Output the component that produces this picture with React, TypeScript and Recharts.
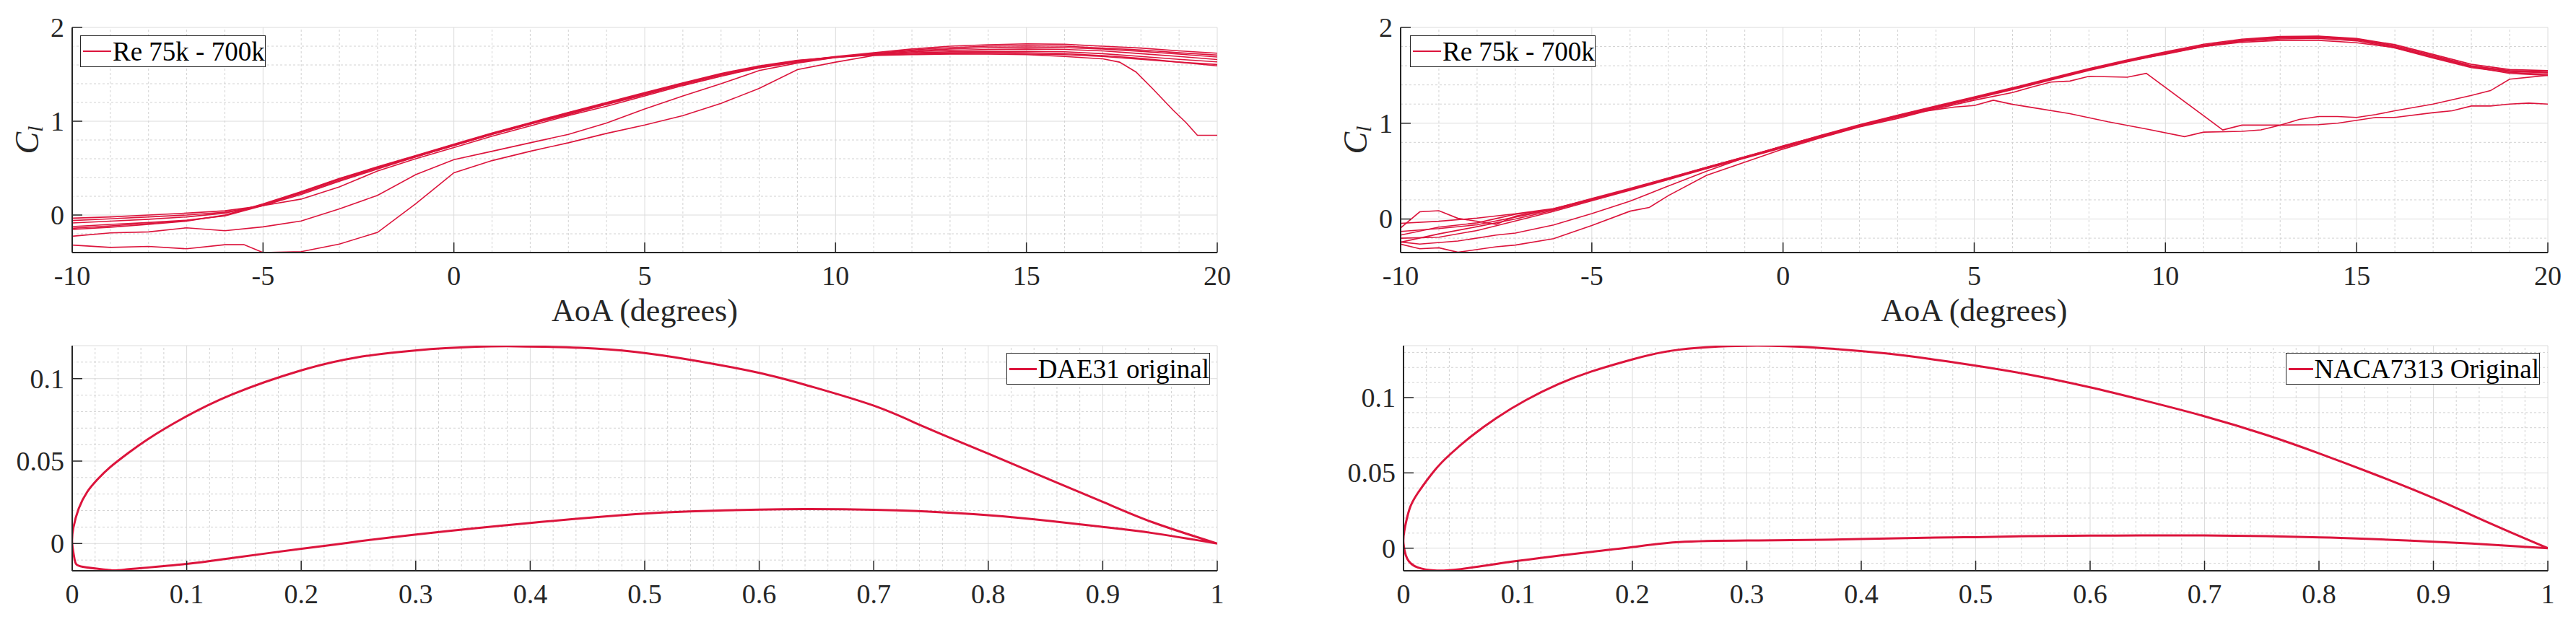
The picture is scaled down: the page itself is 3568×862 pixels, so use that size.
import { CartesianGrid, Legend, Line, LineChart, ReferenceLine, XAxis, YAxis } from "recharts";

const RED = "#dc143c";
const INK = "#262626";
const FONT = '"Liberation Serif", "DejaVu Serif", serif';

// shared angle-of-attack grid (deg)
const aoaDeg = [-10, -9, -8, -7, -6, -5, -4, -3, -2, -1, 0, 1, 2, 3, 4, 5, 6, 7, 8, 9, 10, 11, 12, 13, 14, 15, 16, 17, 18, 19, 20];

// DAE31 polars, Re 75k .. 700k
const dae31Aoa75k = [-10, -9, -8, -7, -6, -5.5, -5, -4, -3, -2, -1, 0, 1, 2, 3, 4, 5, 6, 7, 8, 9, 10, 11, 12, 13, 14, 15, 16, 17, 17.44, 17.87, 18.3, 18.85, 19.18, 19.48, 20];
const dae31Cl75k = [-0.32, -0.345, -0.335, -0.36, -0.316, -0.316, -0.4, -0.39, -0.31, -0.185, 0.12, 0.45, 0.58, 0.68, 0.77, 0.87, 0.96, 1.06, 1.19, 1.35, 1.55, 1.63, 1.7, 1.71, 1.715, 1.715, 1.71, 1.69, 1.665, 1.63, 1.525, 1.35, 1.115, 0.987, 0.85, 0.85];
const dae31Cl100k = [-0.226, -0.19, -0.18, -0.136, -0.167, -0.126, -0.064, 0.065, 0.21, 0.43, 0.59, 0.68, 0.77, 0.86, 0.98, 1.13, 1.27, 1.4, 1.54, 1.62, 1.68, 1.71, 1.725, 1.73, 1.735, 1.73, 1.72, 1.7, 1.67, 1.63, 1.59];
const dae31Cl150k = [-0.154, -0.13, -0.1, -0.065, 0.0, 0.12, 0.25, 0.39, 0.515, 0.635, 0.755, 0.875, 0.985, 1.095, 1.2, 1.305, 1.41, 1.51, 1.59, 1.65, 1.685, 1.705, 1.715, 1.72, 1.72, 1.715, 1.71, 1.69, 1.66, 1.63, 1.605];
const dae31Cl200k = [-0.141, -0.115, -0.09, -0.06, -0.005, 0.11, 0.245, 0.385, 0.51, 0.63, 0.75, 0.87, 0.98, 1.09, 1.19, 1.3, 1.4, 1.5, 1.585, 1.645, 1.685, 1.71, 1.73, 1.74, 1.745, 1.745, 1.74, 1.72, 1.69, 1.66, 1.633];
const dae31Cl300k = [-0.123, -0.1, -0.08, -0.055, -0.01, 0.1, 0.24, 0.38, 0.505, 0.625, 0.745, 0.865, 0.975, 1.08, 1.19, 1.29, 1.4, 1.5, 1.58, 1.64, 1.685, 1.715, 1.74, 1.755, 1.765, 1.77, 1.765, 1.75, 1.72, 1.69, 1.658];
const dae31Cl400k = [-0.085, -0.065, -0.045, -0.02, 0.02, 0.11, 0.23, 0.37, 0.5, 0.62, 0.74, 0.86, 0.97, 1.07, 1.18, 1.28, 1.39, 1.49, 1.57, 1.635, 1.685, 1.72, 1.75, 1.77, 1.785, 1.79, 1.785, 1.77, 1.745, 1.715, 1.685];
const dae31Cl500k = [-0.059, -0.04, -0.02, 0.0, 0.03, 0.1, 0.17, 0.3, 0.47, 0.6, 0.72, 0.84, 0.95, 1.06, 1.16, 1.27, 1.38, 1.48, 1.57, 1.63, 1.68, 1.72, 1.76, 1.785, 1.8, 1.805, 1.8, 1.78, 1.76, 1.73, 1.705];
const dae31Cl700k = [-0.034, -0.02, 0.0, 0.02, 0.045, 0.1, 0.22, 0.36, 0.49, 0.62, 0.74, 0.86, 0.97, 1.08, 1.18, 1.29, 1.4, 1.5, 1.58, 1.64, 1.69, 1.73, 1.77, 1.8, 1.815, 1.825, 1.82, 1.8, 1.78, 1.75, 1.725];

// NACA7313 polars
const nacaAoa75k = [-10, -9.5, -9, -8.5, -7.5, -7, -6, -5, -4, -3.5, -3, -2, -1, 0, 1, 2, 3, 3.74, 4.5, 5, 5.5, 6, 6.5, 7.5, 8.5, 9.5, 10.5, 11, 12, 12.5, 13, 13.5, 14, 14.5, 15, 15.5, 16, 17, 18, 18.5, 19, 20];
const nacaCl75k = [-0.262, -0.31, -0.3, -0.347, -0.29, -0.272, -0.205, -0.067, 0.082, 0.12, 0.244, 0.456, 0.593, 0.73, 0.85, 0.96, 1.05, 1.127, 1.17, 1.185, 1.24, 1.197, 1.165, 1.1, 1.015, 0.94, 0.86, 0.907, 0.915, 0.93, 0.98, 1.04, 1.07, 1.07, 1.06, 1.09, 1.13, 1.2, 1.29, 1.34, 1.46, 1.5];
const nacaAoa100k = [-10, -9.5, -8.5, -7.5, -7, -6, -5, -4, -3, -2, -1, 0, 1, 2, 3, 4, 5, 6, 6.5, 7, 7.5, 8, 9, 9.5, 11.5, 12, 13, 14, 14.5, 15, 15.5, 16, 17, 17.5, 18, 18.5, 19, 19.5, 20];
const nacaCl100k = [-0.24, -0.262, -0.23, -0.167, -0.147, -0.062, 0.057, 0.187, 0.344, 0.5, 0.64, 0.765, 0.87, 0.97, 1.065, 1.15, 1.24, 1.32, 1.376, 1.43, 1.44, 1.49, 1.48, 1.52, 0.93, 0.98, 0.98, 0.985, 1.0, 1.03, 1.06, 1.06, 1.11, 1.13, 1.18, 1.18, 1.2, 1.21, 1.2];
const nacaAoa150k = [-10, -9.5, -9, -8.5, -7.5, -7, -6, -5, -4, -3, -2, -1, 0, 1, 2, 3, 4, 5, 6, 7, 8, 9, 10, 11, 12, 13, 14, 15, 16, 17, 18, 19, 20];
const nacaCl150k = [-0.093, 0.075, 0.087, 0.007, -0.055, 0.03, 0.105, 0.215, 0.32, 0.43, 0.54, 0.65, 0.76, 0.87, 0.98, 1.08, 1.175, 1.27, 1.365, 1.465, 1.565, 1.655, 1.74, 1.815, 1.87, 1.9, 1.905, 1.88, 1.81, 1.71, 1.6, 1.55, 1.54];
const nacaCl200k = [-0.2, -0.19, -0.12, -0.02, 0.08, 0.19, 0.3, 0.41, 0.525, 0.635, 0.745, 0.855, 0.965, 1.065, 1.16, 1.255, 1.35, 1.45, 1.55, 1.64, 1.725, 1.8, 1.855, 1.88, 1.885, 1.86, 1.785, 1.68, 1.58, 1.53, 1.51];
const nacaCl300k = [-0.13, -0.1, -0.06, 0.02, 0.1, 0.205, 0.31, 0.42, 0.535, 0.645, 0.755, 0.865, 0.975, 1.075, 1.17, 1.265, 1.36, 1.46, 1.56, 1.65, 1.72, 1.8, 1.845, 1.865, 1.865, 1.84, 1.79, 1.69, 1.59, 1.52, 1.5];
const nacaCl400k = [-0.242, -0.155, -0.08, 0.0, 0.09, 0.2, 0.305, 0.42, 0.53, 0.64, 0.75, 0.86, 0.97, 1.07, 1.165, 1.26, 1.355, 1.455, 1.555, 1.645, 1.73, 1.805, 1.86, 1.89, 1.895, 1.87, 1.795, 1.69, 1.59, 1.54, 1.525];
const nacaCl500k = [-0.167, -0.085, -0.04, 0.05, 0.1, 0.2, 0.31, 0.42, 0.535, 0.645, 0.755, 0.865, 0.975, 1.075, 1.17, 1.265, 1.36, 1.46, 1.56, 1.65, 1.735, 1.81, 1.865, 1.895, 1.9, 1.875, 1.8, 1.7, 1.595, 1.545, 1.53];
const nacaCl700k = [-0.045, -0.023, 0.01, 0.055, 0.11, 0.21, 0.31, 0.425, 0.54, 0.65, 0.76, 0.875, 0.985, 1.085, 1.18, 1.275, 1.37, 1.47, 1.57, 1.66, 1.745, 1.825, 1.878, 1.905, 1.91, 1.885, 1.82, 1.72, 1.615, 1.56, 1.55];

// airfoil outlines, TE -> upper -> LE -> lower -> TE
const dae31X = [1.0, 0.944, 0.901, 0.854, 0.8, 0.745, 0.7, 0.644, 0.6, 0.539, 0.492, 0.444, 0.388, 0.353, 0.301, 0.248, 0.199, 0.14, 0.096, 0.067, 0.049, 0.033, 0.022, 0.013, 0.0057, 0.001, 0.0,
  0.0021, 0.0093, 0.033, 0.0455, 0.1, 0.14, 0.199, 0.241, 0.299, 0.4, 0.492, 0.539, 0.6, 0.644, 0.7, 0.745, 0.8, 0.854, 0.901, 0.944, 1.0];
const dae31Y = [0.0, 0.0128, 0.025, 0.0387, 0.0545, 0.0705, 0.0836, 0.0955, 0.1035, 0.1115, 0.1162, 0.1187, 0.1196, 0.1193, 0.1172, 0.1128, 0.1048, 0.0905, 0.0757, 0.0637, 0.0549, 0.0462, 0.0388, 0.0312, 0.0212, 0.0095, 0.0,
  -0.0097, -0.0141, -0.0161, -0.0158, -0.0123, -0.0087, -0.0033, 0.0005, 0.0054, 0.0125, 0.0178, 0.0195, 0.0206, 0.0209, 0.0205, 0.0195, 0.0172, 0.0137, 0.01, 0.0063, 0.0];
const nacaX = [1.0, 0.949, 0.9, 0.846, 0.801, 0.754, 0.699, 0.645, 0.6, 0.547, 0.5, 0.4644, 0.4217, 0.36, 0.3, 0.2407, 0.2008, 0.1646, 0.1356, 0.1067, 0.0813, 0.0595, 0.041, 0.027, 0.0124, 0.005, 0.0007, 0.0,
  0.0034, 0.0124, 0.027, 0.0486, 0.0813, 0.121, 0.1646, 0.2008, 0.2407, 0.3, 0.367, 0.4644, 0.5, 0.547, 0.6, 0.645, 0.699, 0.754, 0.801, 0.846, 0.9, 0.949, 1.0];
const nacaY = [0.0, 0.0167, 0.0333, 0.0498, 0.0627, 0.0752, 0.0878, 0.0985, 0.1068, 0.1152, 0.1212, 0.1252, 0.1293, 0.1332, 0.1344, 0.1318, 0.1255, 0.1174, 0.109, 0.0982, 0.0865, 0.0745, 0.0625, 0.0515, 0.0365, 0.0255, 0.0115, 0.003,
  -0.0072, -0.0128, -0.0148, -0.014, -0.0104, -0.0064, -0.0024, 0.0008, 0.004, 0.0051, 0.0056, 0.007, 0.0073, 0.008, 0.0083, 0.0085, 0.0085, 0.008, 0.0072, 0.0061, 0.0043, 0.0024, 0.0];

// ticks
const aoaTicks = [-10, -5, 0, 5, 10, 15, 20];
const aoaMinor = [-9, -8, -7, -6, -4, -3, -2, -1, 1, 2, 3, 4, 6, 7, 8, 9, 11, 12, 13, 14, 16, 17, 18, 19];
const clTicks = [0, 1, 2];
const clMinor = [-0.2, 0.2, 0.4, 0.6, 0.8, 1.2, 1.4, 1.6, 1.8];
const chordTicks = [0, 0.1, 0.2, 0.3, 0.4, 0.5, 0.6, 0.7, 0.8, 0.9, 1];
const chordMinor = [0.02, 0.04, 0.06, 0.08, 0.12, 0.14, 0.16, 0.18, 0.22, 0.24, 0.26, 0.28, 0.32, 0.34, 0.36, 0.38, 0.42, 0.44, 0.46, 0.48,
  0.52, 0.54, 0.56, 0.58, 0.62, 0.64, 0.66, 0.68, 0.72, 0.74, 0.76, 0.78, 0.82, 0.84, 0.86, 0.88, 0.92, 0.94, 0.96, 0.98];
const thickTicks = [0, 0.05, 0.1];
const thickMinor = [-0.01, 0.01, 0.02, 0.03, 0.04, 0.06, 0.07, 0.08, 0.09, 0.11, 0.12, 0.13];

const pts = (xs: number[], ys: number[]) => xs.map((x, i) => ({ x, y: ys[i] }));

const dae31Polars = [
  pts(dae31Aoa75k, dae31Cl75k),
  pts(aoaDeg, dae31Cl100k),
  pts(aoaDeg, dae31Cl150k),
  pts(aoaDeg, dae31Cl200k),
  pts(aoaDeg, dae31Cl300k),
  pts(aoaDeg, dae31Cl400k),
  pts(aoaDeg, dae31Cl500k),
  pts(aoaDeg, dae31Cl700k),
];
const nacaPolars = [
  pts(nacaAoa75k, nacaCl75k),
  pts(nacaAoa100k, nacaCl100k),
  pts(nacaAoa150k, nacaCl150k),
  pts(aoaDeg, nacaCl200k),
  pts(aoaDeg, nacaCl300k),
  pts(aoaDeg, nacaCl400k),
  pts(aoaDeg, nacaCl500k),
  pts(aoaDeg, nacaCl700k),
];

const TICK_LEN = 14;
const fmt = (v: number) => String(v);

const BottomTick = ({ x, y, payload }: any) => (
  <g>
    <line x1={x} y1={y} x2={x} y2={y - TICK_LEN} stroke={INK} strokeWidth={1.5} />
    <text x={x} y={y + 45} textAnchor="middle" fontSize={38} fontFamily={FONT} fill={INK}>
      {fmt(payload.value)}
    </text>
  </g>
);
const TopTick = ({ x, y }: any) => <line x1={x} y1={y} x2={x} y2={y + TICK_LEN} stroke={INK} strokeWidth={1.5} />;
const LeftTick = ({ x, y, payload }: any) => (
  <g>
    <line x1={x} y1={y} x2={x + TICK_LEN} y2={y} stroke={INK} strokeWidth={1.5} />
    <text x={x - 11} y={y} dy="0.34em" textAnchor="end" fontSize={38} fontFamily={FONT} fill={INK}>
      {fmt(payload.value)}
    </text>
  </g>
);
const RightTick = ({ x, y }: any) => <line x1={x} y1={y} x2={x - TICK_LEN} y2={y} stroke={INK} strokeWidth={1.5} />;

const ClLabel = ({ viewBox }: any) => {
  const cx = viewBox.x + 53;
  const cy = viewBox.y + viewBox.height / 2;
  return (
    <text x={cx} y={cy} transform={`rotate(-90 ${cx} ${cy})`} textAnchor="middle" fontFamily={FONT} fill={INK} fontSize={46}>
      <tspan fontStyle="italic">C</tspan>
      <tspan fontStyle="italic" fontSize={29} dy={6}>l</tspan>
    </text>
  );
};

const AoaLabel = ({ viewBox }: any) => (
  <text x={viewBox.x + viewBox.width / 2} y={viewBox.y + 95} textAnchor="middle" fontFamily={FONT} fill={INK} fontSize={44}>
    AoA (degrees)
  </text>
);

const BoxLegend = ({ label, width, thick }: { label: string; width: number; thick: number }) => (
  <div
    style={{
      width,
      height: 44,
      boxSizing: "border-box",
      border: `1.5px solid ${INK}`,
      background: "#fff",
      display: "flex",
      alignItems: "center",
      paddingLeft: 3,
      fontFamily: FONT,
      fontSize: 37,
      color: "#000",
      whiteSpace: "nowrap",
      lineHeight: 1,
    }}
  >
    <span style={{ display: "inline-block", width: 39, height: thick, background: RED, marginRight: 2 }} />
    {label}
  </div>
);

interface PanelProps {
  left: number;
  top: number;
  width: number;
  height: number;
  marginRight: number;
  yAxisWidth: number;
  xAxisHeight: number;
  xDomain: [number, number];
  yDomain: [number, number];
  xTicks: number[];
  yTicks: number[];
  xMinor: number[];
  yMinor: number[];
  series: { x: number; y: number }[][];
  strokeWidth: number;
  curve: "linear" | "natural";
  legend: { label: string; left: number; top: number; width: number };
  polar: boolean;
}

function Panel(p: PanelProps) {
  return (
    <div style={{ position: "absolute", left: p.left, top: p.top }}>
      <LineChart width={p.width} height={p.height} margin={{ top: 38, right: p.marginRight, bottom: 0, left: 0 }}>
        <CartesianGrid stroke="#dcdcdc" strokeWidth={1} />
        {p.xMinor.map((v) => (
          <ReferenceLine key={`x${v}`} x={v} stroke="#d2d2d2" strokeWidth={1} strokeDasharray="3 3" />
        ))}
        {p.yMinor.map((v) => (
          <ReferenceLine key={`y${v}`} y={v} stroke="#d2d2d2" strokeWidth={1} strokeDasharray="3 3" />
        ))}
        <XAxis
          type="number"
          dataKey="x"
          domain={p.xDomain}
          ticks={p.xTicks}
          interval={0}
          allowDataOverflow
          height={p.xAxisHeight}
          tickSize={0}
          tickMargin={0}
          tickLine={false}
          axisLine={{ stroke: INK, strokeWidth: 2 }}
          tick={<BottomTick />}
          label={p.polar ? <AoaLabel /> : undefined}
        />
        <XAxis
          xAxisId="top"
          orientation="top"
          type="number"
          domain={p.xDomain}
          ticks={p.xTicks}
          interval={0}
          allowDataOverflow
          height={0}
          tickSize={0}
          tickMargin={0}
          tickLine={false}
          axisLine={{ stroke: INK, strokeWidth: 2 }}
          tick={<TopTick />}
        />
        <YAxis
          type="number"
          domain={p.yDomain}
          ticks={p.yTicks}
          interval={0}
          allowDataOverflow
          width={p.yAxisWidth}
          tickSize={0}
          tickMargin={0}
          tickLine={false}
          axisLine={{ stroke: INK, strokeWidth: 2 }}
          tick={<LeftTick />}
          label={p.polar ? <ClLabel /> : undefined}
        />
        <YAxis
          yAxisId="right"
          orientation="right"
          type="number"
          domain={p.yDomain}
          ticks={p.yTicks}
          interval={0}
          allowDataOverflow
          width={0}
          tickSize={0}
          tickMargin={0}
          tickLine={false}
          axisLine={{ stroke: INK, strokeWidth: 2 }}
          tick={<RightTick />}
        />
        {p.series.map((d, i) => (
          <Line
            key={i}
            data={d}
            dataKey="y"
            name={p.legend.label}
            type={p.curve}
            dot={false}
            activeDot={false}
            stroke={RED}
            strokeWidth={p.strokeWidth}
            isAnimationActive={false}
          />
        ))}
        <Legend
          layout="vertical"
          align="center"
          verticalAlign="middle"
          wrapperStyle={{ left: p.legend.left, top: p.legend.top, width: "auto" }}
          content={() => <BoxLegend label={p.legend.label} width={p.legend.width} thick={p.polar ? 2 : 3} />}
        />
      </LineChart>
    </div>
  );
}

export default function App() {
  return (
    <div style={{ position: "absolute", left: 0, top: 0, width: 3568, height: 862, background: "#fff", overflow: "hidden" }}>
      <Panel
        left={0}
        top={0}
        width={1720}
        height={460}
        marginRight={34}
        yAxisWidth={100}
        xAxisHeight={110}
        xDomain={[-10, 20]}
        yDomain={[-0.4, 2]}
        xTicks={aoaTicks}
        yTicks={clTicks}
        xMinor={aoaMinor}
        yMinor={clMinor}
        series={dae31Polars}
        strokeWidth={1.6}
        curve="linear"
        legend={{ label: "Re 75k - 700k", left: 111, top: 49, width: 257 }}
        polar
      />
      <Panel
        left={1840}
        top={0}
        width={1728}
        height={460}
        marginRight={39}
        yAxisWidth={100}
        xAxisHeight={110}
        xDomain={[-10, 20]}
        yDomain={[-0.35, 2]}
        xTicks={aoaTicks}
        yTicks={clTicks}
        xMinor={aoaMinor}
        yMinor={clMinor}
        series={nacaPolars}
        strokeWidth={1.6}
        curve="linear"
        legend={{ label: "Re 75k - 700k", left: 113, top: 49, width: 257 }}
        polar
      />
      <Panel
        left={0}
        top={441}
        width={1720}
        height={421}
        marginRight={34}
        yAxisWidth={100}
        xAxisHeight={71}
        xDomain={[0, 1]}
        yDomain={[-0.0165, 0.12]}
        xTicks={chordTicks}
        yTicks={thickTicks}
        xMinor={chordMinor}
        yMinor={thickMinor.filter((v) => v < 0.12)}
        series={[pts(dae31X, dae31Y)]}
        strokeWidth={3}
        curve="natural"
        legend={{ label: "DAE31 original", left: 1394, top: 48, width: 282 }}
        polar={false}
      />
      <Panel
        left={1840}
        top={441}
        width={1728}
        height={421}
        marginRight={39}
        yAxisWidth={104}
        xAxisHeight={71}
        xDomain={[0, 1]}
        yDomain={[-0.015, 0.1345]}
        xTicks={chordTicks}
        yTicks={thickTicks}
        xMinor={chordMinor}
        yMinor={thickMinor}
        series={[pts(nacaX, nacaY)]}
        strokeWidth={3}
        curve="natural"
        legend={{ label: "NACA7313 Original", left: 1326, top: 48, width: 352 }}
        polar={false}
      />
    </div>
  );
}
